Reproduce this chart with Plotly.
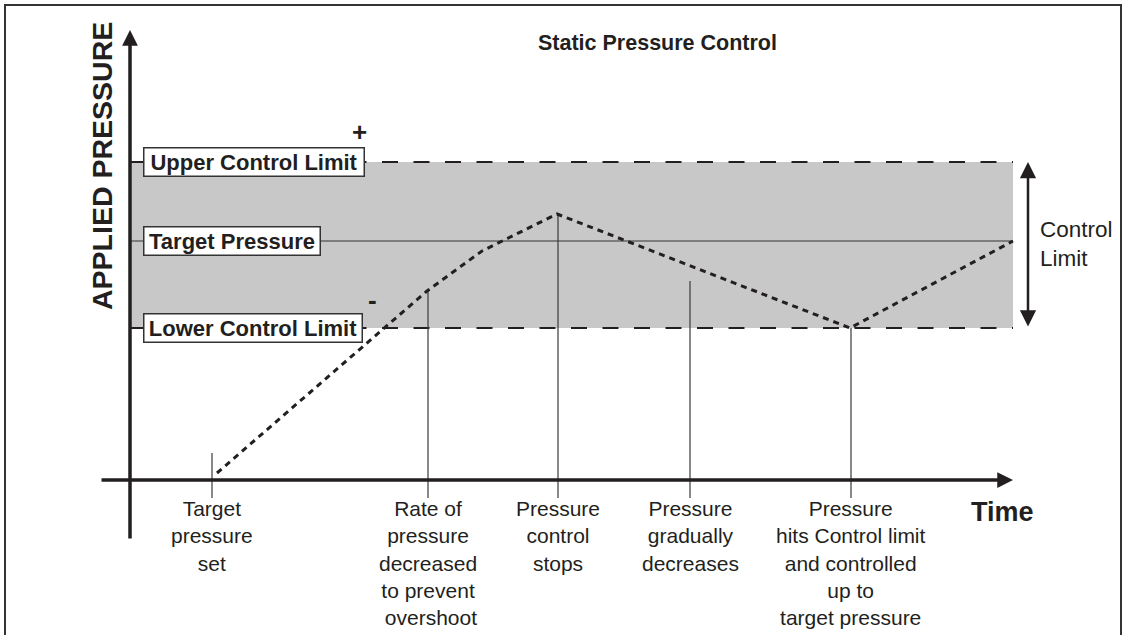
import plotly.graph_objects as go

# Pressure levels (arbitrary units; origin where the two axes cross)
upper_limit = 318
target_pressure = 239
lower_limit = 152
limit_names = ["Upper Control Limit", "Target Pressure", "Lower Control Limit"]
limit_values = [upper_limit, target_pressure, lower_limit]

# Applied pressure over time
trace_time = [87, 297, 352, 427, 720, 883]
trace_pressure = [7, 189, 229, 266, 152, 239]

# Events called out below the time axis
event_time = [82, 298, 428, 560, 721]
event_pressure = [27, 189, 266, 199, 152]
event_labels = [
    "Target<br>pressure<br>set",
    "Rate of<br>pressure<br>decreased<br>to prevent<br> overshoot",
    "Pressure<br>control<br>stops",
    "Pressure<br>gradually<br>decreases",
    "Pressure<br>hits Control limit<br>and controlled<br>up to<br>target pressure",
]
time_end = 883

INK = "#231f20"
FONT = "Arial, Liberation Sans, Helvetica, sans-serif"
leader_bottom = -18

fig = go.Figure()

# control band
fig.add_shape(type="rect", x0=0, x1=time_end, y0=lower_limit, y1=upper_limit,
              fillcolor="#c8c8c8", line=dict(width=0), layer="below")

# upper / lower limits (dashed) and target (solid)
for lvl in (upper_limit, lower_limit):
    fig.add_trace(go.Scatter(x=[0, time_end], y=[lvl, lvl], mode="lines",
                             line=dict(color=INK, width=2.2, dash="16px,15.5px"),
                             hoverinfo="skip"))
fig.add_trace(go.Scatter(x=[0, time_end], y=[target_pressure, target_pressure], mode="lines",
                         line=dict(color="#333333", width=1.2), hoverinfo="skip"))

# leader lines from each event down past the time axis
for t, p in zip(event_time, event_pressure):
    fig.add_trace(go.Scatter(x=[t, t], y=[p, leader_bottom], mode="lines",
                             line=dict(color="#3a3a3a", width=1.2), hoverinfo="skip"))

# applied pressure path
fig.add_trace(go.Scatter(x=trace_time, y=trace_pressure, mode="lines",
                         line=dict(color=INK, width=3, dash="6px,5px"),
                         hoverinfo="skip"))

ann = []
# axes with arrowheads
ann.append(dict(x=time_end, y=0, ax=-30, ay=0, xref="x", yref="y", axref="x", ayref="y",
                showarrow=True, arrowhead=2, arrowwidth=3.5, arrowsize=0.9,
                arrowcolor=INK, text=""))
ann.append(dict(x=0, y=450, ax=0, ay=-60, xref="x", yref="y", axref="x", ayref="y",
                showarrow=True, arrowhead=2, arrowwidth=3.5, arrowsize=0.9,
                arrowcolor=INK, text=""))
# control-limit span arrow
ann.append(dict(x=898, y=upper_limit, ax=898, ay=lower_limit, xref="x", yref="y",
                axref="x", ayref="y", showarrow=True, arrowhead=2, arrowside="end+start",
                arrowwidth=2.5, arrowsize=1.3, arrowcolor=INK, text=""))

# boxed level labels
box_widths = [219, 175, 217]
for name, lvl, w in zip(limit_names, limit_values, box_widths):
    ann.append(dict(x=13, y=lvl, xref="x", yref="y", xanchor="left", yanchor="middle",
                    text="<b>%s</b>" % name, showarrow=False, width=w, height=27,
                    align="center", valign="middle", bgcolor="white",
                    bordercolor="#333333", borderwidth=1.5, borderpad=0,
                    font=dict(family=FONT, size=22, color=INK)))

ann.append(dict(x=229, y=348, xref="x", yref="y", text="<b>+</b>", showarrow=False,
                font=dict(family=FONT, size=26, color=INK)))
ann.append(dict(x=242, y=180, xref="x", yref="y", text="<b>-</b>", showarrow=False,
                font=dict(family=FONT, size=26, color=INK)))

# event captions
for t, lab in zip(event_time, event_labels):
    ann.append(dict(x=t, y=-15, xref="x", yref="y", xanchor="center", yanchor="top",
                    text=lab, showarrow=False, align="center",
                    font=dict(family=FONT, size=21, color=INK)))

ann.append(dict(x=872, y=-32, xref="x", yref="y", text="<b>Time</b>", showarrow=False,
                font=dict(family=FONT, size=27, color=INK)))
ann.append(dict(x=908, y=236, xref="x", yref="y", xanchor="left", yanchor="middle",
                text="Control<br>Limit", showarrow=False, align="left",
                font=dict(family=FONT, size=22.5, color=INK)))
ann.append(dict(x=527, y=437, xref="x", yref="y", text="<b>Static Pressure Control</b>",
                showarrow=False, font=dict(family=FONT, size=21.5, color=INK)))
ann.append(dict(x=-28, y=314, xref="x", yref="y", text="<b>APPLIED PRESSURE</b>",
                textangle=-90, showarrow=False,
                font=dict(family=FONT, size=28.5, color=INK)))

# outer frame
fig.add_shape(type="rect", x0=-125, x1=991, y0=-170, y1=475,
              line=dict(color="#333333", width=2), fillcolor="rgba(0,0,0,0)")

fig.update_layout(
    width=1128, height=635, margin=dict(l=0, r=0, t=0, b=0),
    paper_bgcolor="white", plot_bgcolor="white", showlegend=False,
    annotations=ann,
    xaxis=dict(range=[-130, 998], visible=False, fixedrange=True),
    yaxis=dict(range=[-155, 480], visible=False, fixedrange=True),
)

fig.write_html("out.html")
